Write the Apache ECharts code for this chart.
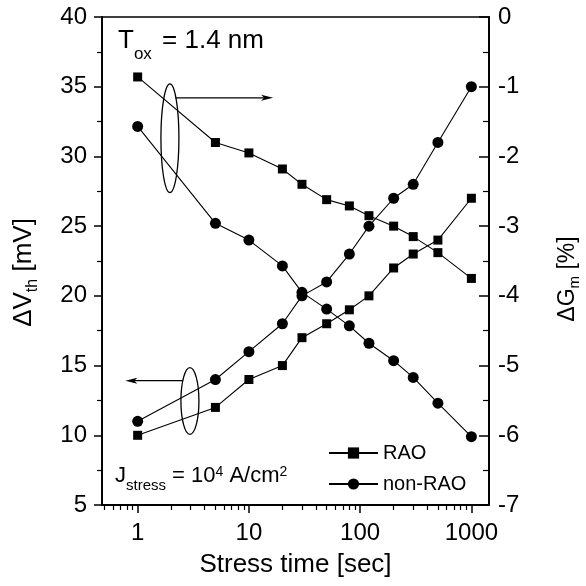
<!DOCTYPE html>
<html>
<head>
<meta charset="utf-8">
<script src="https://cdn.jsdelivr.net/npm/echarts@6/dist/echarts.min.js"></script>
<style>
html,body{margin:0;padding:0;background:#fff;}
#chart{width:586px;height:586px;}
</style>
</head>
<body>
<div id="chart"></div>
<script>
// ---- data ----
const timeSec     = [1, 5, 10, 20, 30, 50, 80, 120, 200, 300, 500, 1000];
const dVthRAO     = [10, 12, 14, 15, 17, 18, 19, 20, 22, 23, 24, 27];
const dVthNonRAO  = [11, 14, 16, 18, 20, 21, 23, 25, 27, 28, 31, 35];
const dGmRAO      = [-0.86, -1.80, -1.95, -2.18, -2.40, -2.62, -2.71, -2.85, -3.00, -3.15, -3.38, -3.75];
const dGmNonRAO   = [-1.57, -2.96, -3.20, -3.57, -3.95, -4.19, -4.43, -4.68, -4.93, -5.17, -5.54, -6.02];
const xMajorTicks = [1, 10, 100, 1000];
const xMinorTicks = [0.5, 0.6, 0.7, 0.8, 0.9, 2, 3, 4, 5, 6, 7, 8, 9, 20, 30, 40, 50, 60, 70, 80, 90, 200, 300, 400, 500, 600, 700, 800, 900];
const seriesNames = ['RAO', 'non-RAO'];

const X_MIN = 0.478, X_MAX = 1440;
const F = '"Liberation Sans", Arial, Helvetica, sans-serif';
const BLACK = '#000';

function pairs(xs, ys) { return xs.map((x, i) => [x, ys[i]]); }
const lg = v => Math.log10(v);

const chart = echarts.init(document.getElementById('chart'), null, {renderer: 'canvas'});

const option = {
  animation: false,
  backgroundColor: '#fff',
  grid: {left: 102, top: 17, right: 97, bottom: 81, show: true, borderColor: BLACK, borderWidth: 1.6,
    containLabel: false, outerBoundsMode: 'none'},
  legend: {
    data: seriesNames,
    orient: 'vertical',
    left: 328, top: 443,
    itemWidth: 49, itemHeight: 14, itemGap: 11, padding: 0,
    textStyle: {fontFamily: F, fontSize: 20, color: BLACK}
  },
  xAxis: [
    {
      type: 'log', logBase: 10, min: X_MIN, max: X_MAX, position: 'bottom',
      axisLine: {show: true, onZero: false, lineStyle: {color: BLACK, width: 1.8}},
      axisTick: {show: false}, axisLabel: {show: false}, splitLine: {show: false},
      name: 'Stress time [sec]', nameLocation: 'middle', nameGap: 47,
      nameTextStyle: {fontFamily: F, fontSize: 26, color: BLACK}
    },
    {
      type: 'value', min: lg(X_MIN), max: lg(X_MAX), position: 'bottom',
      axisLine: {show: false, onZero: false},
      axisTick: {show: true, customValues: xMajorTicks.map(lg), length: 8, lineStyle: {color: BLACK, width: 1.5}},
      axisLabel: {show: true, customValues: xMajorTicks.map(lg), margin: 16,
        formatter: v => String(Math.round(Math.pow(10, v))),
        fontFamily: F, fontSize: 24, color: BLACK},
      splitLine: {show: false}
    },
    {
      type: 'value', min: lg(X_MIN), max: lg(X_MAX), position: 'bottom',
      axisLine: {show: false, onZero: false},
      axisTick: {show: true, customValues: xMinorTicks.map(lg), length: 5, lineStyle: {color: BLACK, width: 1.2}},
      axisLabel: {show: false},
      splitLine: {show: false}
    }
  ],
  yAxis: [
    {
      type: 'value', min: 5, max: 40, interval: 5, position: 'left',
      axisLine: {show: true, onZero: false, lineStyle: {color: BLACK, width: 1.8}},
      axisTick: {show: true, inside: false, length: 8, lineStyle: {color: BLACK, width: 1.5}},
      minorTick: {show: true, splitNumber: 2, length: 5, lineStyle: {color: BLACK, width: 1.2}},
      axisLabel: {margin: 15, fontFamily: F, fontSize: 24, color: BLACK},
      splitLine: {show: false},
      name: '{m|ΔV}{s|th}{m| [mV]}', nameLocation: 'middle', nameRotate: 90, nameGap: 47,
      nameTextStyle: {
        padding: [0, 23, 0, 0],
        rich: {
          m: {fontFamily: F, fontSize: 26, color: BLACK, lineHeight: 32, verticalAlign: 'top'},
          s: {fontFamily: F, fontSize: 16, color: BLACK, lineHeight: 44, verticalAlign: 'middle'}
        }
      }
    },
    {
      type: 'value', min: -7, max: 0, interval: 1, position: 'right',
      axisLine: {show: true, onZero: false, lineStyle: {color: BLACK, width: 1.8}},
      axisTick: {show: true, inside: true, length: 10, lineStyle: {color: BLACK, width: 1.5}},
      minorTick: {show: true, splitNumber: 2, length: 6, lineStyle: {color: BLACK, width: 1.2}},
      axisLabel: {margin: 9, fontFamily: F, fontSize: 24, color: BLACK},
      splitLine: {show: false},
      name: '{m|ΔG}{s|m}{m| [%]}', nameLocation: 'middle', nameRotate: 90, nameGap: 67,
      nameTextStyle: {
        padding: [0, 36, 0, 0],
        rich: {
          m: {fontFamily: F, fontSize: 23, color: BLACK, lineHeight: 28, verticalAlign: 'top'},
          s: {fontFamily: F, fontSize: 15, color: BLACK, lineHeight: 38, verticalAlign: 'middle'}
        }
      }
    }
  ],
  series: [
    {name: 'RAO', type: 'line', xAxisIndex: 0, yAxisIndex: 0, data: pairs(timeSec, dVthRAO),
      symbol: 'rect', symbolSize: 9, itemStyle: {color: BLACK}, lineStyle: {color: BLACK, width: 1.1}},
    {name: 'non-RAO', type: 'line', xAxisIndex: 0, yAxisIndex: 0, data: pairs(timeSec, dVthNonRAO),
      symbol: 'circle', symbolSize: 11, itemStyle: {color: BLACK}, lineStyle: {color: BLACK, width: 1.1}},
    {name: 'RAO', type: 'line', xAxisIndex: 0, yAxisIndex: 1, data: pairs(timeSec, dGmRAO),
      symbol: 'rect', symbolSize: 9, itemStyle: {color: BLACK}, lineStyle: {color: BLACK, width: 1.1}},
    {name: 'non-RAO', type: 'line', xAxisIndex: 0, yAxisIndex: 1, data: pairs(timeSec, dGmNonRAO),
      symbol: 'circle', symbolSize: 11, itemStyle: {color: BLACK}, lineStyle: {color: BLACK, width: 1.1}}
  ],
  graphic: [
    {
      type: 'text', left: 118, top: 28, z: 100,
      style: {
        text: '{m|T}{s|ox}{q| = 1.4 nm}',
        rich: {
          m: {fontFamily: F, fontSize: 26, fill: BLACK, lineHeight: 30, verticalAlign: 'top'},
          q: {fontFamily: F, fontSize: 26, fill: BLACK, lineHeight: 30, verticalAlign: 'top', padding: [0, 0, 0, 3]},
          s: {fontFamily: F, fontSize: 17, fill: BLACK, lineHeight: 53, verticalAlign: 'middle'}
        }
      }
    },
    {
      type: 'text', left: 115, top: 465, z: 100,
      style: {
        text: '{m|J}{s|stress}{m| = 10}{p|4}{m| A/cm}{p|2}',
        rich: {
          m: {fontFamily: F, fontSize: 22, fill: BLACK, lineHeight: 28, verticalAlign: 'top'},
          s: {fontFamily: F, fontSize: 15, fill: BLACK, lineHeight: 42, verticalAlign: 'middle'},
          p: {fontFamily: F, fontSize: 14, fill: BLACK, lineHeight: 18, verticalAlign: 'top'}
        }
      }
    }
  ]
};
chart.setOption(option);

// ---- annotation anchors (data units of time / left axis) ----
const upperEllipse = {x: 1.95, y: 31.3, yTop: 35.2};
const upperArrow   = {x0: 2.18, x1: 16.5, y: 34.2};
const lowerEllipse = {x: 2.95, y: 12.46, yTop: 14.85};
const lowerArrow   = {x0: 2.56, x1: 0.774, y: 13.92};

function px(x, y) { return chart.convertToPixel({xAxisIndex: 0, yAxisIndex: 0}, [x, y]); }
function ellipseEl(e) {
  const c = px(e.x, e.y), t = px(e.x, e.yTop);
  return {type: 'ellipse', z: 50, shape: {cx: c[0], cy: c[1], rx: 9, ry: c[1] - t[1]},
    style: {fill: 'none', stroke: BLACK, lineWidth: 1.3}};
}
function arrowEls(a) {
  const p0 = px(a.x0, a.y), p1 = px(a.x1, a.y);
  const dir = p1[0] > p0[0] ? 1 : -1;
  const L = 12, W = 3;
  return [
    {type: 'line', z: 50, shape: {x1: p0[0], y1: p0[1], x2: p1[0] - dir * L * 0.6, y2: p1[1]},
      style: {stroke: BLACK, lineWidth: 1.2}},
    {type: 'polygon', z: 50, shape: {points: [[p1[0], p1[1]], [p1[0] - dir * L, p1[1] - W], [p1[0] - dir * L * 0.75, p1[1]], [p1[0] - dir * L, p1[1] + W]]},
      style: {fill: BLACK}}
  ];
}
chart.setOption({
  graphic: option.graphic.concat([ellipseEl(upperEllipse), ellipseEl(lowerEllipse)], arrowEls(upperArrow), arrowEls(lowerArrow))
}, {replaceMerge: ['graphic']});
</script>
</body>
</html>
